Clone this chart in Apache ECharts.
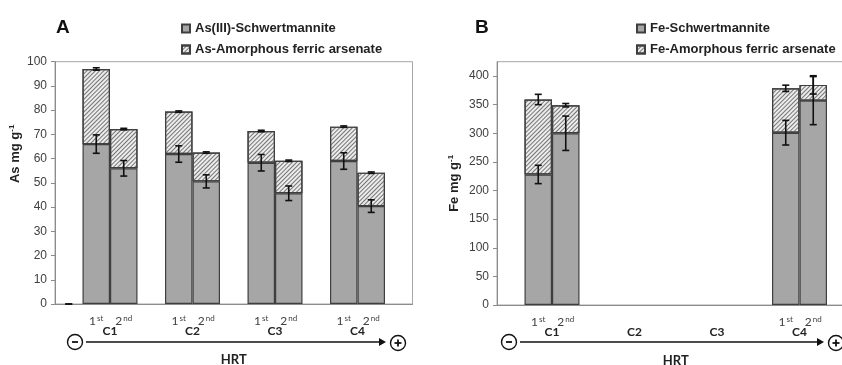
<!DOCTYPE html>
<html>
<head>
<meta charset="utf-8">
<script src="https://cdn.jsdelivr.net/npm/echarts@6/dist/echarts.min.js"></script>
<style>
html, body { margin: 0; padding: 0; background: #fff; }
#chart { width: 842px; height: 365px; }
</style>
</head>
<body>
<div id="chart"></div>
<script>
const conditions = ["C1", "C2", "C3", "C4"];
const runs = ["1st", "2nd"];

// Panel A - As (mg g-1), order: C1 1st, C1 2nd, C2 1st, ... C4 2nd
const asSchw = [66.0, 56.0, 61.9, 50.6, 58.3, 45.7, 59.0, 40.4];
const asSchwErr = [3.8, 3.2, 3.4, 2.7, 3.4, 3.0, 3.4, 2.6];
const asAmorph = [31.0, 16.2, 17.5, 11.9, 13.1, 13.4, 14.2, 13.8];
const asTotalErr = [0.5, 0.3, 0.3, 0.3, 0.3, 0.3, 0.3, 0.3];

// Panel B - Fe (mg g-1), C2 and C3 not measured
const feSchw = [228, 300, null, null, null, null, 301, 357];
const feSchwErr = [16, 30, null, null, null, null, 21.5, 42];
const feAmorph = [131, 49, null, null, null, null, 77.5, 27.5];
const feTotalErr = [9, 3, null, null, null, null, 5.5, 16];

const yTicksA = [0, 10, 20, 30, 40, 50, 60, 70, 80, 90, 100];
const yTicksB = [0, 50, 100, 150, 200, 250, 300, 350, 400];

// 13 slots per panel: lead slot, then 2 runs + 1 gap per condition
function slotIndex(i) { return 1 + Math.floor(i / 2) * 3 + (i % 2); }
const slotCount = 13;
const slotNames = [];
for (let s = 0; s < slotCount; s++) slotNames.push("");
conditions.forEach((c, ci) => runs.forEach((r, ri) => { slotNames[slotIndex(ci * 2 + ri)] = r; }));

function toSlots(vals) {
  const out = new Array(slotCount).fill(null);
  vals.forEach((v, i) => { out[slotIndex(i)] = v; });
  return out;
}

function errPoints(base, add, err) {
  const pts = [];
  base.forEach((b, i) => {
    if (b == null) return;
    pts.push([slotIndex(i), b + (add ? add[i] : 0), err[i]]);
  });
  return pts;
}

const FONT = "Liberation Sans";
const CFONT = "Lato";
const GRAY = "#a6a6a6";
const EDGE = "#3f3f3f";

const hatch = {
  symbol: "rect",
  symbolSize: 1,
  dashArrayX: [1, 0],
  dashArrayY: [1, 2],
  rotation: -Math.PI / 4,
  color: "#757575"
};

function runLabel(v, idx, present) {
  if (!v || !present[idx]) return "";
  return "{n|" + v.charAt(0) + "}{s|" + v.slice(1) + "}";
}
const runRich = {
  n: { fontFamily: CFONT, fontSize: 12, color: "#404040", lineHeight: 14 },
  s: { fontFamily: CFONT, fontSize: 8, color: "#404040", verticalAlign: "top", lineHeight: 14, padding: [0, 0, 6, 1] }
};

function errSeries(xi, yi, pts) {
  return {
    type: "custom",
    xAxisIndex: xi,
    yAxisIndex: yi,
    z: 10,
    silent: true,
    data: pts,
    renderItem: function (params, api) {
      const x = api.value(0), c = api.value(1), e = api.value(2);
      const hi = api.coord([x, c + e]);
      const lo = api.coord([x, c - e]);
      const w = 3.5;
      const st = { stroke: "#111", lineWidth: 1.6 };
      return {
        type: "group",
        children: [
          { type: "line", shape: { x1: hi[0], y1: hi[1], x2: lo[0], y2: lo[1] }, style: st },
          { type: "line", shape: { x1: hi[0] - w, y1: hi[1], x2: hi[0] + w, y2: hi[1] }, style: st },
          { type: "line", shape: { x1: lo[0] - w, y1: lo[1], x2: lo[0] + w, y2: lo[1] }, style: st }
        ]
      };
    }
  };
}

function hrtArrow(x0, x1, y) {
  const st = { stroke: "#111", lineWidth: 1.3, fill: null };
  return [
    { type: "circle", shape: { cx: x0, cy: y, r: 7.5 }, style: { stroke: "#111", lineWidth: 1.4, fill: "#fff" } },
    { type: "line", shape: { x1: x0 - 3, y1: y, x2: x0 + 3, y2: y }, style: { stroke: "#111", lineWidth: 1.8 } },
    { type: "line", shape: { x1: x0 + 11, y1: y, x2: x1 - 18, y2: y }, style: st },
    { type: "polygon", shape: { points: [[x1 - 19, y - 4], [x1 - 12, y], [x1 - 19, y + 4]] }, style: { fill: "#111" } },
    { type: "circle", shape: { cx: x1, cy: y + 1, r: 7.5 }, style: { stroke: "#111", lineWidth: 1.4, fill: "#fff" } },
    { type: "line", shape: { x1: x1 - 3.5, y1: y + 1, x2: x1 + 3.5, y2: y + 1 }, style: { stroke: "#111", lineWidth: 1.8 } },
    { type: "line", shape: { x1: x1, y1: y - 2.5, x2: x1, y2: y + 4.5 }, style: { stroke: "#111", lineWidth: 1.8 } }
  ];
}

const asPresent = toSlots(asSchw).map(v => v != null);
const fePresent = toSlots(feSchw).map(v => v != null);

function catAxis(gi, present) {
  return {
    type: "category",
    gridIndex: gi,
    data: slotNames,
    axisLine: { lineStyle: { color: "#8c8c8c", width: 1 } },
    axisTick: { show: false },
    axisLabel: {
      interval: 0,
      margin: 10,
      formatter: (v, idx) => runLabel(v, idx, present),
      rich: runRich
    }
  };
}

function condAxis(gi) {
  return {
    type: "value",
    gridIndex: gi,
    position: "bottom",
    offset: 13,
    min: 0,
    max: slotCount,
    axisLine: { show: false },
    axisTick: { show: false },
    splitLine: { show: false },
    name: "HRT",
    nameLocation: "middle",
    nameGap: 36,
    nameTextStyle: { fontFamily: CFONT, fontWeight: "bold", fontSize: 13, color: "#222" },
    axisLabel: {
      customValues: [2, 5, 8, 11],
      formatter: v => conditions[(v - 2) / 3],
      fontFamily: CFONT,
      fontWeight: "bold",
      fontSize: 12,
      color: "#222",
      margin: 8
    }
  };
}

function valAxis(gi, max, interval, ticks, name, gap, pad) {
  return {
    type: "value",
    gridIndex: gi,
    min: 0,
    max: max,
    interval: interval,
    splitLine: { show: false },
    axisLine: { show: true, lineStyle: { color: "#8c8c8c" } },
    axisTick: { show: true, length: 4, customValues: ticks, lineStyle: { color: "#8c8c8c" } },
    axisLabel: { customValues: ticks, fontFamily: FONT, fontSize: 12, color: "#404040", margin: 8 },
    name: name,
    nameLocation: "middle",
    nameGap: gap,
    nameRotate: 90,
    nameTextStyle: {
      fontFamily: FONT, fontWeight: "bold", fontSize: 13, color: "#222",
      padding: pad,
      rich: { sup: { fontFamily: FONT, fontWeight: "bold", fontSize: 8, color: "#222", verticalAlign: "top", padding: [0, 0, 6, 0] } }
    }
  };
}

function barSeries(name, xi, yi, vals, stack, itemStyle) {
  return {
    name: name,
    type: "bar",
    xAxisIndex: xi,
    yAxisIndex: yi,
    stack: stack,
    barWidth: "100%",
    data: vals,
    itemStyle: itemStyle
  };
}

const styleSchw = { color: GRAY, borderColor: EDGE, borderWidth: 1.2 };
const styleAmorph = { color: "#ececec", borderColor: EDGE, borderWidth: 1.2, decal: hatch };

const chart = echarts.init(document.getElementById("chart"));
chart.setOption({
  animation: false,
  title: [
    { text: "A", left: 51, top: 13, textStyle: { fontFamily: FONT, fontSize: 19, fontWeight: "bold", color: "#111" } },
    { text: "B", left: 470, top: 13, textStyle: { fontFamily: FONT, fontSize: 19, fontWeight: "bold", color: "#111" } }
  ],
  legend: [
    {
      left: 176, top: 17, orient: "vertical", itemGap: 8, itemWidth: 8, itemHeight: 8, icon: "rect",
      data: ["As(III)-Schwertmannite", "As-Amorphous ferric arsenate"],
      textStyle: { fontFamily: FONT, fontWeight: "bold", fontSize: 13, color: "#222" }
    },
    {
      left: 631, top: 17, orient: "vertical", itemGap: 8, itemWidth: 8, itemHeight: 8, icon: "rect",
      data: ["Fe-Schwertmannite", "Fe-Amorphous ferric arsenate"],
      textStyle: { fontFamily: FONT, fontWeight: "bold", fontSize: 13, color: "#222" }
    }
  ],
  grid: [
    { left: 55, top: 61.7, width: 357.5, height: 242.3, show: true, borderColor: "#a6a6a6", borderWidth: 1, backgroundColor: "transparent", outerBoundsMode: "none", containLabel: false },
    { left: 497, top: 61.7, width: 357.5, height: 243.3, show: true, borderColor: "#a6a6a6", borderWidth: 1, backgroundColor: "transparent", outerBoundsMode: "none", containLabel: false }
  ],
  xAxis: [catAxis(0, asPresent), condAxis(0), catAxis(1, fePresent), condAxis(1)],
  yAxis: [
    valAxis(0, 100, 10, yTicksA, "As mg g{sup|-1}", 33, [0, 0, 0, 58]),
    valAxis(1, 425, 50, yTicksB, "Fe mg g{sup|-1}", 36, [0, 0, 0, 0])
  ],
  series: [
    barSeries("As(III)-Schwertmannite", 0, 0, toSlots(asSchw), "a", styleSchw),
    barSeries("As-Amorphous ferric arsenate", 0, 0, toSlots(asAmorph), "a", styleAmorph),
    barSeries("Fe-Schwertmannite", 2, 1, toSlots(feSchw), "b", styleSchw),
    barSeries("Fe-Amorphous ferric arsenate", 2, 1, toSlots(feAmorph), "b", styleAmorph),
    errSeries(0, 0, [[0, 0, 0]].concat(errPoints(asSchw, null, asSchwErr), errPoints(asSchw, asAmorph, asTotalErr))),
    errSeries(2, 1, errPoints(feSchw, null, feSchwErr).concat(errPoints(feSchw, feAmorph, feTotalErr)))
  ],
  graphic: hrtArrow(75, 398, 342).concat(hrtArrow(509, 836, 342))
});
</script>
</body>
</html>
